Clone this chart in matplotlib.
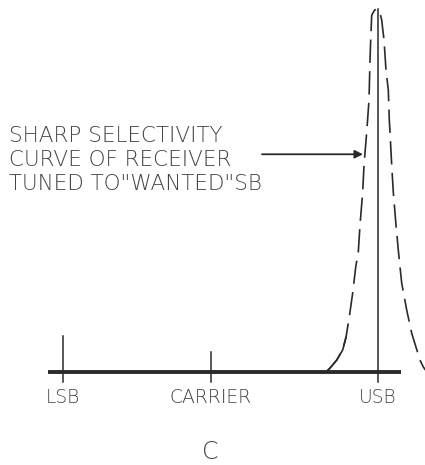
import matplotlib
matplotlib.use('Agg')
import matplotlib.pyplot as plt

# frequency positions (arbitrary units, carrier = 0)
labels = ['LSB', 'CARRIER', 'USB']
freqs = [-148, 0, 167]
tick_top = [0.10, 0.055, 1.0]

# selectivity curve of the receiver, tuned to the USB (relative response)
curve_f = [115, 119, 125.7, 131.7, 135, 138.3, 141.7, 144.7, 147.3, 149, 151.7,
           153, 155.7, 158, 159, 159.7, 160.7, 163.5, 166.3, 169, 170.7, 173,
           175, 177.3, 178.3, 179, 180.7, 182.3, 185, 187.3, 188.3, 190.7,
           195.7, 200.7, 209, 212.3, 216]
curve_a = [0.0, 0.011, 0.033, 0.061, 0.096, 0.152, 0.218, 0.289, 0.331, 0.405, 0.496,
           0.570, 0.661, 0.749, 0.860, 0.915, 0.983, 0.997, 1.0, 0.989, 0.970, 0.915,
           0.832, 0.777, 0.694, 0.661, 0.570, 0.496, 0.405, 0.336, 0.309, 0.245,
           0.171, 0.107, 0.033, 0.014, 0.0]

note = 'SHARP SELECTIVITY\nCURVE OF RECEIVER\nTUNED TO"WANTED"SB'

ink = '#2a2a2a'
plt.rcParams['font.family'] = ['DejaVu Sans']

fig = plt.figure(figsize=(4.25, 4.65), dpi=100)
ax = fig.add_axes([0, 0, 1, 1])
ax.set_xlim(-211, 214)
ax.set_ylim(-0.256, 1.025)
ax.axis('off')

# baseline
ax.plot([-163, 190], [0, 0], color=ink, lw=2.8, solid_capstyle='butt')

# markers for LSB, carrier, USB
for f, top in zip(freqs, tick_top):
    ax.plot([f, f], [-0.028, top], color=ink, lw=1.1)

for lab, f in zip(labels, freqs):
    ax.text(f, -0.069, lab, ha='center', va='center', fontsize=13.5,
            fontweight='ultralight', color='#444444')

# dashed selectivity curve, solid where it leaves the baseline on the left
ax.plot(curve_f, curve_a, color=ink, lw=1.2, ls=(0, (14, 5)))
low = [i for i, f in enumerate(curve_f) if f <= 135.5]
ax.plot([curve_f[i] for i in low], [curve_a[i] for i in low], color=ink, lw=1.2)

ax.text(-202, 0.585, note, ha='left', va='center', fontsize=15.5,
        fontweight='ultralight', color='#444444', linespacing=1.25)

ax.annotate('', xy=(152, 0.600), xytext=(51, 0.600),
            arrowprops=dict(arrowstyle='-|>', color=ink, lw=1.3,
                            mutation_scale=12, shrinkA=0, shrinkB=0))

ax.text(-1, -0.221, 'C', ha='center', va='center', fontsize=17,
        fontweight='ultralight', color='#444444')

fig.savefig('out.png', dpi=100, facecolor='white')
